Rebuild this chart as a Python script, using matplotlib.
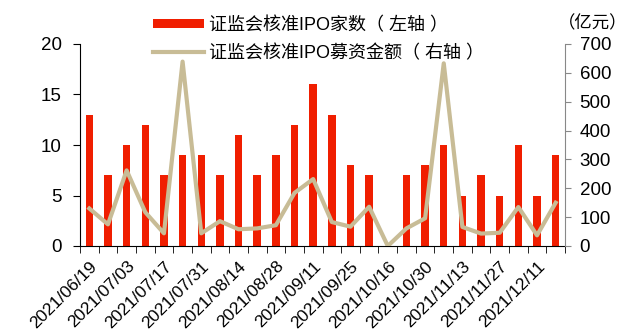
import numpy as np
import matplotlib
matplotlib.use("Agg")
import matplotlib.pyplot as plt
from matplotlib.patches import Patch
from matplotlib.lines import Line2D

plt.rcParams['font.family'] = ['Liberation Sans', 'Noto Sans CJK SC', 'DejaVu Sans']

# weekly data (categorical dates, holiday week 10/02 skipped)
dates = ["2021/06/19", "2021/06/26", "2021/07/03", "2021/07/10", "2021/07/17",
         "2021/07/24", "2021/07/31", "2021/08/07", "2021/08/14", "2021/08/21",
         "2021/08/28", "2021/09/04", "2021/09/11", "2021/09/18", "2021/09/25",
         "2021/10/09", "2021/10/16", "2021/10/23", "2021/10/30", "2021/11/06",
         "2021/11/13", "2021/11/20", "2021/11/27", "2021/12/04", "2021/12/11",
         "2021/12/18"]
ipo_count = [13, 7, 10, 12, 7, 9, 9, 7, 11, 7, 9, 12, 16, 13, 8, 7, 0, 7, 8, 10,
             5, 7, 5, 10, 5, 9]
ipo_funds = [130, 75, 262, 117, 44, 639, 44, 86, 58, 61, 72, 184, 232, 83, 67,
             136, 0, 61, 96, 633, 66, 43, 46, 135, 37, 150]

bar_label = "证监会核准IPO家数（ 左轴 ）"
line_label = "证监会核准IPO募资金额（ 右轴 ）"
unit_label = "（亿元）"

RED = "#F01E00"
TAN = "#C8BC96"

fig = plt.figure(figsize=(6.29, 3.35), dpi=100)
ax = fig.add_axes([80 / 629, 1 - 246 / 335, 485 / 629, 202 / 335])
ax2 = ax.twinx()

x = np.arange(len(dates))
ax.bar(x, ipo_count, width=0.4, color=RED, zorder=2)
ax2.plot(x, ipo_funds, color=TAN, lw=3, zorder=3)

ax.set_xlim(-0.5, len(dates) - 0.5)
ax.set_ylim(0, 20)
ax.set_yticks([0, 5, 10, 15, 20])
ax2.set_ylim(0, 700)
ax2.set_yticks(range(0, 701, 100))

# labels every 2 weeks, tick marks between categories
ax.set_xticks(x[::2])
ax.set_xticklabels(dates[::2], rotation=45, ha='right', rotation_mode='anchor', fontsize=12.5)
ax.tick_params(axis='x', length=0, pad=9)
ax.set_xticks(np.arange(-0.5, len(dates), 1), minor=True)
ax.tick_params(axis='x', which='minor', length=5, direction='out', color='black')

ax.tick_params(axis='y', labelsize=13.5, length=5, pad=8)
ax2.tick_params(axis='y', labelsize=13.5, length=4.5, pad=6, color='#888888')

for a in (ax, ax2):
    a.spines['top'].set_visible(False)
ax2.spines['left'].set_visible(False)
ax2.spines['bottom'].set_visible(False)
ax2.spines['right'].set_color('#888888')
ax.spines['right'].set_visible(False)

ax2.set_zorder(ax.get_zorder() + 1)
ax2.patch.set_visible(False)

handles = [Patch(facecolor=RED, edgecolor='none'),
           Line2D([0], [0], color=TAN, lw=3)]
fig.legend(handles, [bar_label, line_label], loc='upper left',
           bbox_to_anchor=(139 / 629, 1 - 2 / 335), frameon=False,
           fontsize=13, handlelength=2.8, handleheight=0.45,
           handletextpad=0.3, labelspacing=0.6, borderpad=0.3)

fig.text(593 / 629, 1 - 23 / 335, unit_label, fontsize=12.5, ha='center', va='center')

fig.savefig("out.png", dpi=100)
